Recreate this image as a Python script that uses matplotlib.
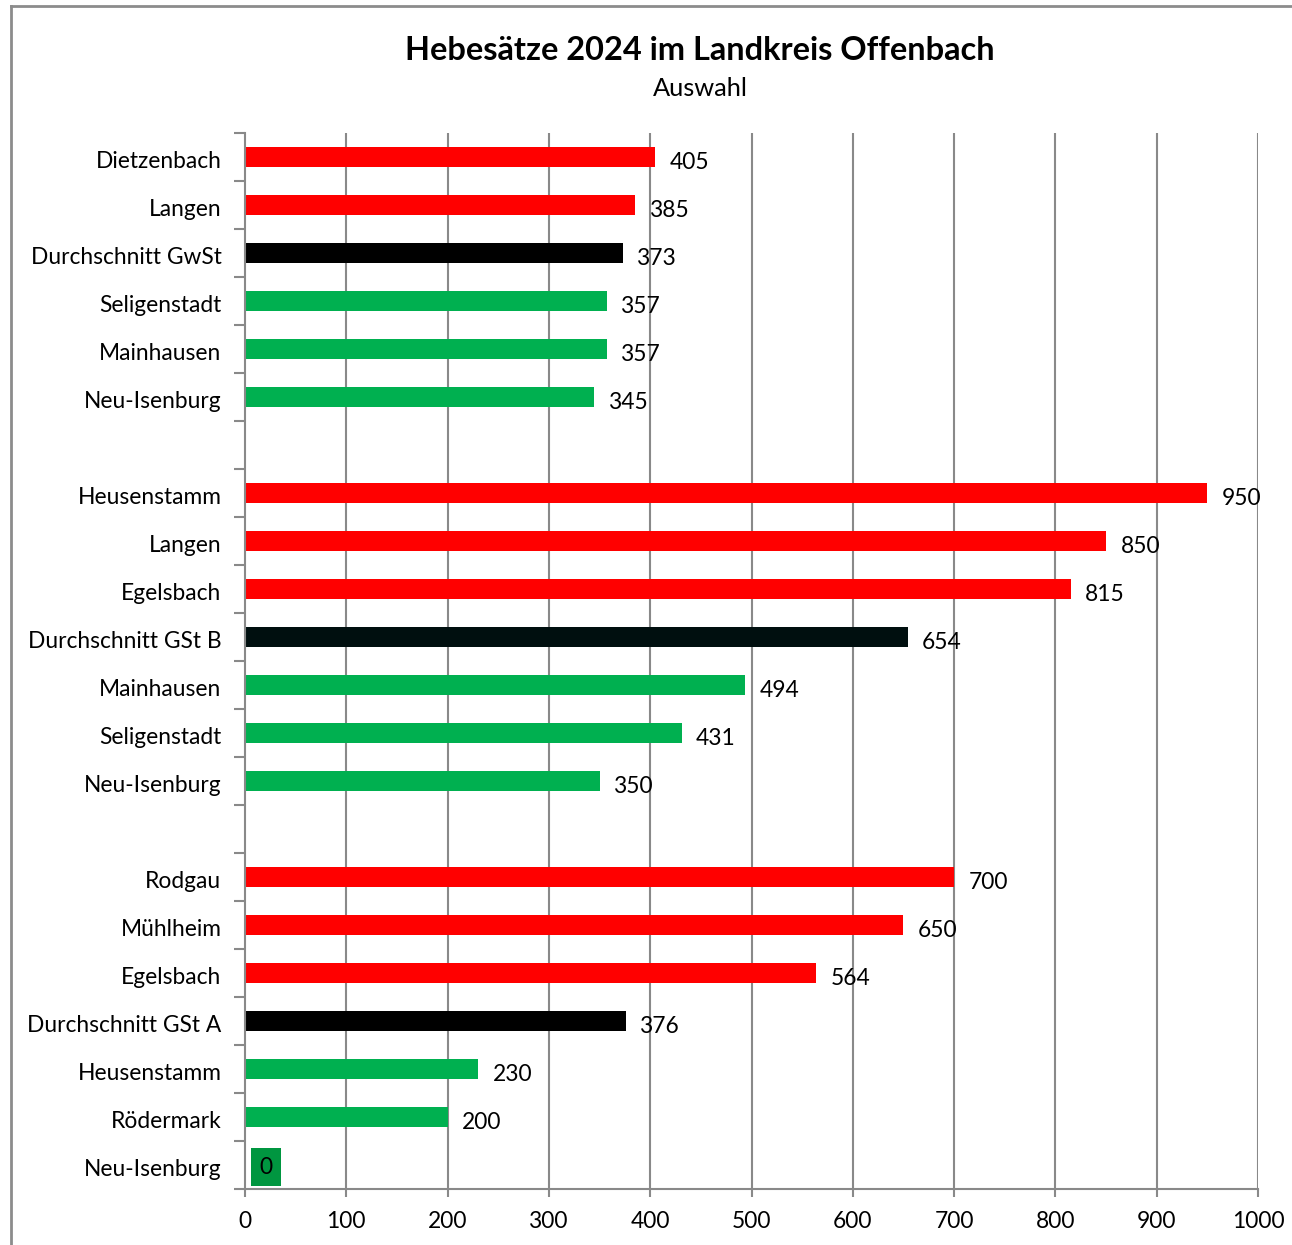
import matplotlib
matplotlib.use("Agg")
import matplotlib.pyplot as plt
from matplotlib.lines import Line2D
from matplotlib.transforms import ScaledTranslation

plt.rcParams['font.family'] = ['Lato', 'DejaVu Sans']

categories = ["Dietzenbach", "Langen", "Durchschnitt GwSt", "Seligenstadt", "Mainhausen", "Neu-Isenburg",
              "",
              "Heusenstamm", "Langen", "Egelsbach", "Durchschnitt GSt B", "Mainhausen", "Seligenstadt", "Neu-Isenburg",
              "",
              "Rodgau", "Mühlheim", "Egelsbach", "Durchschnitt GSt A", "Heusenstamm", "Rödermark", "Neu-Isenburg"]
values = [405, 385, 373, 357, 357, 345,
          None,
          950, 850, 815, 654, 494, 431, 350,
          None,
          700, 650, 564, 376, 230, 200, 0]
kinds = ["hi", "hi", "avg", "lo", "lo", "lo",
         None,
         "hi", "hi", "hi", "avgB", "lo", "lo", "lo",
         None,
         "hi", "hi", "hi", "avg", "lo", "lo", "lo"]
color_map = {"hi": "#FF0000", "lo": "#00B050", "avg": "#000000", "avgB": "#000F0F"}
xticks = [0, 100, 200, 300, 400, 500, 600, 700, 800, 900, 1000]

W, H = 1292, 1245
fig = plt.figure(figsize=(W / 100, H / 100), dpi=100)
ax = fig.add_axes([245 / W, (H - 1189) / H, (1258 - 245) / W, (1189 - 133) / H])

n = len(categories)
grid_c = "#898989"
fs = 16.4
ax.set_xlim(0, 1000)
ax.set_ylim(n, 0)
for x in xticks[1:]:
    ax.axvline(x, color=grid_c, lw=1.5, zorder=0)

for i, (v, k) in enumerate(zip(values, kinds)):
    if v is None:
        continue
    y = i + 0.5
    ax.barh(y, v, height=0.42, color=color_map[k], zorder=2)
    if v == 0:
        ax.annotate(str(v), (v, y), xytext=(15, -1.5), textcoords="offset points",
                    ha="center", va="center", fontsize=fs,
                    bbox=dict(boxstyle="square,pad=0.38", fc="#009640", ec="none"), zorder=3)
    else:
        ax.annotate(str(v), (v, y), xytext=(10.5, -4), textcoords="offset points",
                    ha="left", va="center", fontsize=fs, zorder=3)

ax.set_yticks(range(0, n + 1))
ax.set_yticklabels([])
ax.set_yticks([i + 0.5 for i in range(n)], minor=True)
ax.set_yticklabels(categories, minor=True, fontsize=fs)
ax.tick_params(axis="y", which="minor", length=0, pad=17)
for lab in ax.get_yticklabels(minor=True):
    lab.set_transform(lab.get_transform() + ScaledTranslation(0, -2 / 72, fig.dpi_scale_trans))
ax.tick_params(axis="y", which="major", length=8, width=1.5, color=grid_c)
ax.set_xticks(xticks)
ax.set_xticklabels([str(x) for x in xticks], fontsize=fs)
ax.tick_params(axis="x", length=6, width=1.5, color=grid_c, pad=10)

for s in ["top", "right"]:
    ax.spines[s].set_visible(False)
for s in ["left", "bottom"]:
    ax.spines[s].set_color(grid_c)
    ax.spines[s].set_linewidth(1.5)

fig.text(700 / W, 1 - 51 / H, "Hebesätze 2024 im Landkreis Offenbach", ha="center", va="center",
         fontsize=23.4, fontweight="bold")
fig.text(700 / W, 1 - 89 / H, "Auswahl", ha="center", va="center", fontsize=18.3)

fig.add_artist(Line2D([11 / W, 11 / W], [0, 1 - 6 / H], transform=fig.transFigure, color="#8c8c8c", lw=2))
fig.add_artist(Line2D([11 / W, 1], [1 - 6 / H, 1 - 6 / H], transform=fig.transFigure, color="#8c8c8c", lw=2))

fig.savefig("out.png", dpi=100)
